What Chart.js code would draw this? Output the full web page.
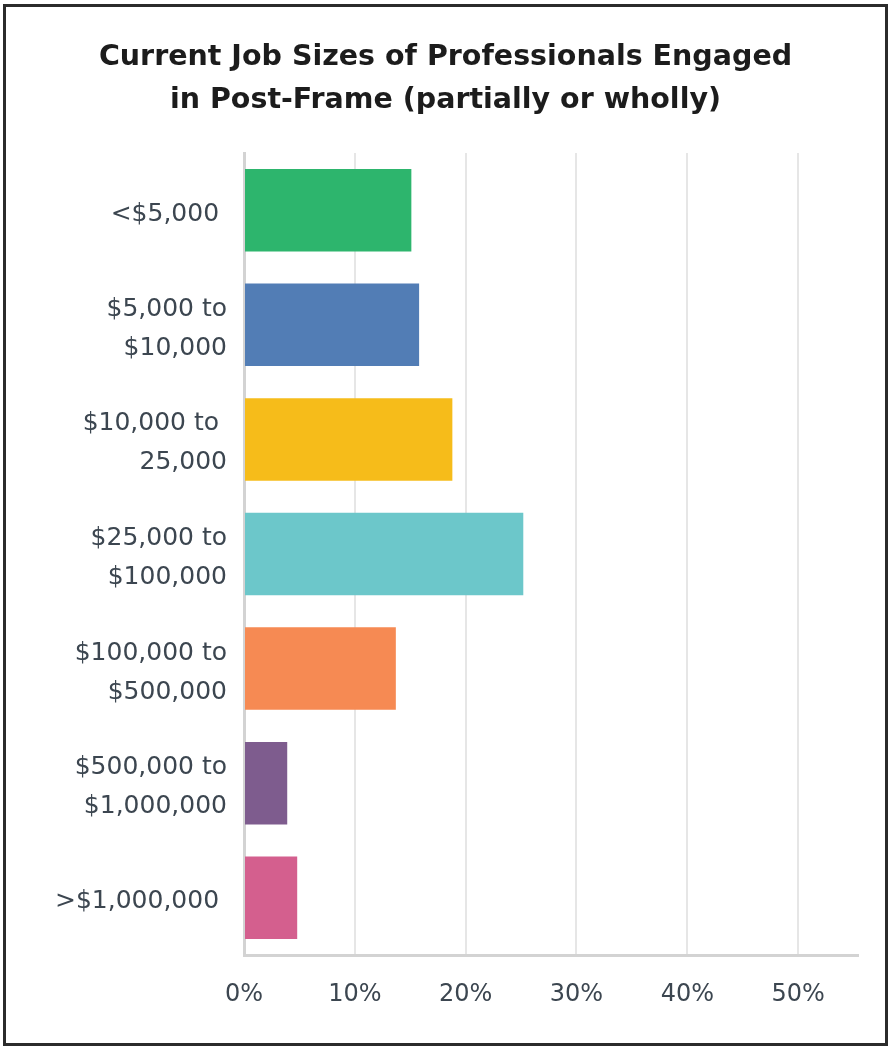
<!DOCTYPE html>
<html>
<head>
<meta charset="utf-8">
<script src="https://cdn.jsdelivr.net/npm/chart.js@4.4.0/dist/chart.umd.min.js"></script>
<style>
    html, body { margin: 0; padding: 0; background: #ffffff; }
    #frame {
        position: absolute;
        left: 3px;
        top: 4px;
        width: 885px;
        height: 1042px;
        border: 3px solid #2b2b2b;
        box-sizing: border-box;
    }
    #Chart { display: block; }
</style>
</head>
<body>
<div id="frame">
    <canvas id="Chart" width="879" height="1036"></canvas>
</div>
<script>
// Chart data
const categories = [
    '<$5,000 ',
    ['$5,000 to', '$10,000'],
    ['$10,000 to ', '25,000'],
    ['$25,000 to', '$100,000'],
    ['$100,000 to', '$500,000'],
    ['$500,000 to', '$1,000,000'],
    '>$1,000,000 '
];
const shares = [15.1, 15.8, 18.8, 25.2, 13.7, 3.9, 4.8];
const barColors = ['#2db56d', '#527db5', '#f6bc1a', '#6cc7ca', '#f68a53', '#7e5c8e', '#d45f8e'];
const xTicks = [0, 10, 20, 30, 40, 50];
const titleLines = ['Current Job Sizes of Professionals Engaged', 'in Post-Frame (partially or wholly)'];

const labelColor = '#3c4650';

const ctx = document.getElementById('Chart').getContext('2d');

const chartOptions = {
    type: 'bar',
    data: {
        labels: categories,
        datasets: [{
            data: shares,
            backgroundColor: barColors,
            borderWidth: 0,
            categoryPercentage: 1,
            barPercentage: 0.72
        }]
    },
    options: {
        indexAxis: 'y',
        responsive: false,
        animation: false,
        // equal side padding keeps the title centred on the canvas
        layout: {
            padding: { left: 27, right: 27, top: 0, bottom: 0 }
        },
        plugins: {
            legend: { display: false },
            tooltip: { enabled: false },
            title: {
                display: true,
                text: titleLines,
                color: '#1c1c1c',
                font: { family: 'DejaVu Sans', size: 28.5, weight: 'bold', lineHeight: '43px' },
                padding: { top: 29, bottom: 31 }
            }
        },
        scales: {
            x: {
                min: 0,
                max: 55.4,
                afterBuildTicks: function (scale) {
                    scale.ticks = xTicks.map(v => ({ value: v }));
                },
                afterFit: function (scale) {
                    scale.height = 88;
                },
                grid: {
                    color: '#e6e6e6',
                    lineWidth: 2,
                    drawTicks: false
                },
                border: { color: '#d3d3d3', width: 3 },
                ticks: {
                    padding: 25,
                    color: labelColor,
                    font: { family: 'DejaVu Sans', size: 24 },
                    callback: function (value) { return value + '%'; }
                }
            },
            y: {
                afterFit: function (scale) {
                    scale.width = 211;
                },
                grid: { display: false, drawTicks: false },
                border: { color: '#d3d3d3', width: 3 },
                ticks: {
                    padding: 17,
                    labelOffset: 4,
                    color: labelColor,
                    font: { family: 'DejaVu Sans', size: 25, lineHeight: 1.56 }
                }
            }
        }
    }
};

const myChart = new Chart(ctx, chartOptions);
</script>
</body>
</html>
